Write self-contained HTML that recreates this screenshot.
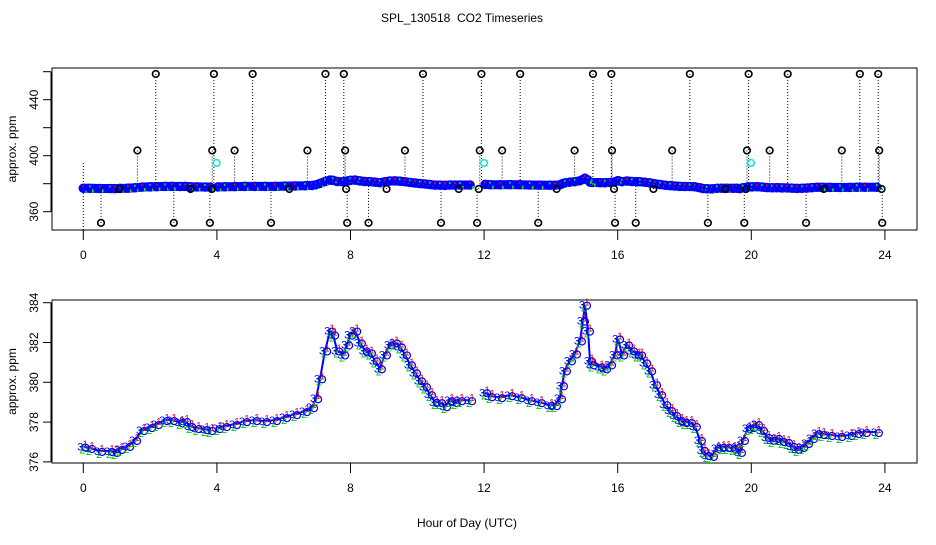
<!DOCTYPE html>
<html><head><meta charset="utf-8"><style>
body{margin:0;background:#fff}
svg text{font-family:"Liberation Sans",sans-serif}
</style></head><body>
<svg id="c" width="936" height="540" viewBox="0 0 936 540">
<text x="462" y="22" font-size="12" text-anchor="middle">SPL_130518&#160; CO2 Timeseries</text>
<text x="467" y="527" font-size="12" text-anchor="middle">Hour of Day (UTC)</text>
<g id="top"></g>
<g id="bot"></g>
</svg>
<script>
const hours = [0,0.2,0.5,0.8,0.95,1.1,1.34,1.55,1.76,2.0,2.2,2.45,2.66,2.9,3.05,3.2,3.4,3.65,3.8,null,
4.03,4.24,4.54,4.84,5.14,5.44,5.74,6.04,6.34,6.64,6.85,6.97,7.09,7.24,7.39,7.48,7.6,7.78,7.9,7.99,8.14,8.28,8.43,8.58,8.73,8.88,9.03,9.18,9.33,9.48,9.63,9.78,9.93,10.08,10.23,10.38,10.53,10.68,10.83,10.98,11.13,11.28,11.58,null,
12.03,12.18,12.48,12.78,13.07,13.37,13.67,13.97,14.12,14.27,14.33,14.42,14.57,14.72,14.87,14.96,15.02,15.11,15.17,15.23,15.47,15.62,15.77,15.92,16.01,16.13,16.28,16.43,16.58,16.67,16.82,16.97,17.12,17.27,17.42,17.57,17.72,17.87,18.01,18.16,18.31,18.46,18.55,18.67,18.82,18.97,19.12,19.27,19.45,19.57,19.66,19.75,19.9,20.02,20.17,20.32,20.47,20.62,20.77,20.92,21.07,21.22,21.37,21.52,21.67,21.82,21.97,22.12,22.36,22.66,22.95,23.16,23.4,23.76];
const ppm = [376.77,376.7,376.55,376.55,376.5,376.65,376.8,377.1,377.6,377.75,377.9,378.1,378.1,378.0,378.05,377.8,377.7,377.65,377.6,null,
377.7,377.8,377.9,378.05,378.1,378.05,378.1,378.25,378.4,378.55,378.75,379.2,380.2,381.6,382.6,382.4,381.6,381.4,381.9,382.4,382.6,382.0,381.6,381.5,381.1,380.7,381.4,381.9,382.0,381.8,381.4,380.9,380.5,380.1,379.8,379.4,379.0,379.0,378.8,379.1,379.0,379.1,379.1,null,
379.5,379.3,379.25,379.35,379.25,379.1,379.0,378.85,378.85,379.2,379.85,380.6,381.1,381.45,382.1,383.1,383.9,382.6,381.1,380.9,380.8,380.7,380.9,381.4,382.2,381.4,381.9,381.6,381.4,381.4,381.0,380.6,379.9,379.4,378.9,378.6,378.35,378.1,378.0,378.0,377.8,377.1,376.6,376.35,376.3,376.7,376.75,376.75,376.7,376.75,376.5,377.1,377.7,377.75,377.9,377.6,377.25,377.1,377.2,377.05,377.0,376.8,376.65,376.75,376.95,377.2,377.45,377.4,377.35,377.3,377.35,377.45,377.5,377.5];
const highHours = [2.17,3.91,5.07,7.25,7.80,10.17,11.92,13.08,15.26,15.81,18.16,19.92,21.09,23.25,23.80];
const highPpm = [458.4,458.4,458.4,458.4,458.4,458.4,458.4,458.4,458.4,458.4,458.4,458.4,458.4,458.4,458.4];
const midHours = [1.62,3.86,4.53,6.71,7.84,9.63,11.87,12.54,14.71,15.83,17.63,19.87,20.55,22.71,23.83];
const midPpm = [403.7,403.7,403.7,403.7,403.7,403.7,403.7,403.7,403.7,403.7,403.7,403.7,403.7,403.7,403.7];
const lowHours = [0.53,2.71,3.79,5.62,7.90,8.54,10.71,11.79,13.62,15.92,16.54,18.70,19.79,21.64,23.92];
const lowPpm = [352,352,352,352,352,352,352,352,352,352,352,352,352,352,352];
const nearHours = [1.08,3.21,3.85,6.17,7.87,9.08,11.24,11.84,14.17,15.89,17.07,19.22,19.84,22.17,23.90];
const nearPpm = [376.2,376.2,376.2,376.2,376.2,376.2,376.2,376.2,376.2,376.2,376.2,376.2,376.2,376.2,376.2];
const cyanHours = [3.99,12.0,19.99];
const cyanPpm = [394.8,394.8,394.8];
const xTicks = [0,4,8,12,16,20,24];
const topYTicks = [360,380,400,420,440,460];
const topYLabels = [360,400,440];
const botYTicks = [376,378,380,382,384];

const NS="http://www.w3.org/2000/svg";
function mk(p,t,a){const e=document.createElementNS(NS,t);for(const k in a)e.setAttribute(k,a[k]);p.appendChild(e);return e;}
const X=h=>83.3+h*33.4;
const topY=v=>71.7+(460-v)*1.4;
const botY=v=>302.7+(384-v)*19.9;
function nearestPpm(h){let best=0,bd=1e9;hours.forEach((x,i)=>{if(x!==null&&Math.abs(x-h)<bd){bd=Math.abs(x-h);best=ppm[i];}});return best;}

function axes(g,top,bottom,Y,yt,yl,name){
  const box=mk(g,'rect',{x:52,y:top,width:865,height:bottom-top,fill:'none',stroke:'#000','stroke-width':1});
  
  
  mk(g,'line',{x1:X(0),x2:X(24),y1:bottom,y2:bottom,stroke:'#000'});
  xTicks.forEach(t=>{
    mk(g,'line',{x1:X(t),x2:X(t),y1:bottom,y2:bottom+10,stroke:'#000'});
    const tx=mk(g,'text',{x:X(t),y:bottom+29,'font-size':12,'text-anchor':'middle'});
    tx.textContent=t;
    
    
  });
  mk(g,'line',{x1:51,x2:51,y1:Y(yt[0]),y2:Y(yt[yt.length-1]),stroke:'#000'});
  yt.forEach(t=>mk(g,'line',{x1:43,x2:51,y1:Y(t),y2:Y(t),stroke:'#000'}));
  yl.forEach(t=>{
    const tx=mk(g,'text',{x:0,y:0,'font-size':12,'text-anchor':'middle',transform:`translate(38,${Y(t)}) rotate(-90)`});
    tx.textContent=t;
    
    
  });
  const yl2=mk(g,'text',{x:0,y:0,'font-size':12,'text-anchor':'middle',transform:`translate(16,${(top+bottom)/2}) rotate(-90)`});
  yl2.textContent='approx. ppm';
  
  
}
function pathFor(Y){let d='',pen=false;hours.forEach((h,i)=>{if(h===null){pen=false;return;}d+=(pen?'L':'M')+X(h).toFixed(1)+','+Y(ppm[i]).toFixed(1);pen=true;});return d;}

// TOP
const gt=document.getElementById('top');
axes(gt,68,230,topY,topYTicks,topYLabels,'top');
function outliers(hs,vs){
  hs.forEach((h,i)=>{
    const base=topY(nearestPpm(h));
    mk(gt,'line',{x1:X(h),x2:X(h),y1:topY(vs[i]),y2:base,stroke:'#000','stroke-dasharray':'1,2','stroke-width':1});
  });
}
outliers(highHours,highPpm);outliers(midHours,midPpm);outliers(lowHours,lowPpm);outliers(nearHours,nearPpm);
mk(gt,'line',{x1:X(0),x2:X(0),y1:163,y2:230,stroke:'#000','stroke-dasharray':'1,2'});
const band=mk(gt,'path',{d:pathFor(topY),fill:'none',stroke:'#0000ff','stroke-width':9,'stroke-linecap':'round','stroke-linejoin':'round'});


hours.forEach((h,i)=>{
  if(h===null)return;
  const c=mk(gt,'circle',{cx:X(h),cy:topY(ppm[i]),r:3.5,fill:'none',stroke:'#0000ff','stroke-width':2.5});
  
  
  mk(gt,'rect',{x:X(h)-1,y:topY(ppm[i])-3,width:1.5,height:2,fill:(i%2?'#00ff00':'#ff0000')});
  mk(gt,'rect',{x:X(h)+2,y:topY(ppm[i])+1,width:1.5,height:3,fill:'#00ff00'});
});
[[highHours,highPpm],[midHours,midPpm],[lowHours,lowPpm],[nearHours,nearPpm]].forEach(([hs,vs])=>{
  hs.forEach((h,i)=>{
    const c=mk(gt,'circle',{cx:X(h),cy:topY(vs[i]),r:3.3,fill:'none',stroke:'#000','stroke-width':1.6});
    
    
  });
});
cyanHours.forEach((h,i)=>{
  const c=mk(gt,'circle',{cx:X(h),cy:topY(cyanPpm[i]),r:3.3,fill:'none',stroke:'#00e5e5','stroke-width':1.5});
  
  
});

// BOTTOM
const gb=document.getElementById('bot');
axes(gb,300,463,botY,botYTicks,botYTicks,'bottom');
const ln=mk(gb,'path',{d:pathFor(botY),fill:'none',stroke:'#0000ff','stroke-width':2});


hours.forEach((h,i)=>{
  if(h===null)return;
  const x=X(h),y=botY(ppm[i]);
  const t1=mk(gb,'text',{x:x+2,y:y+1,'font-size':10,fill:'#ff0000','text-anchor':'middle'});t1.textContent='1';
  
  
  const t2=mk(gb,'text',{x:x-1,y:y+7,'font-size':11,fill:'#00cc00','text-anchor':'middle'});t2.textContent='2';
  
  
  const t3=mk(gb,'text',{x:x-3,y:y+4,'font-size':11,fill:'#0000ff','text-anchor':'middle'});t3.textContent='3';
  
  
  mk(gb,'circle',{cx:x+2,cy:y+1,r:3.5,fill:'none',stroke:'#0000ff','stroke-width':1.2});
});
</script>
</body></html>
